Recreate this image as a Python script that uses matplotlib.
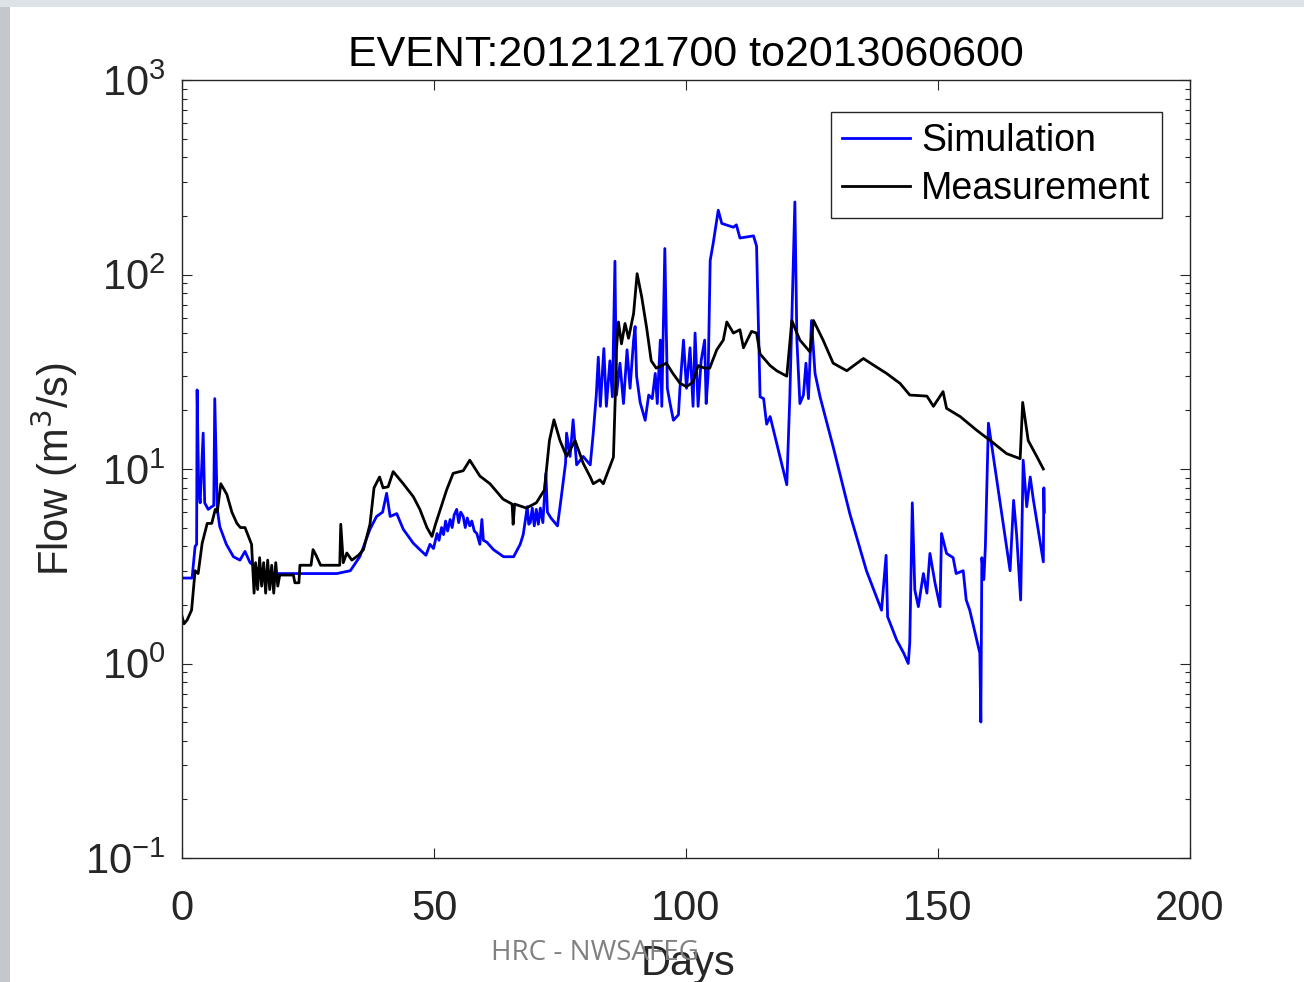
import matplotlib
matplotlib.use("Agg")
import matplotlib.pyplot as plt
from matplotlib.patches import Rectangle
from matplotlib.ticker import LogLocator, FixedLocator

plt.rcParams['font.family'] = ['Liberation Sans', 'DejaVu Sans']
plt.rcParams['axes.unicode_minus'] = False

# data (days, m^3/s)
sim_day = [0, 2.0, 2.6, 2.9, 3.0, 3.3, 3.6, 4.2, 4.5, 5.2, 5.9, 6.3, 6.5, 7.0, 7.5,
           8.8, 10.2, 11.5, 12.5, 13.5, 15.5, 17.5, 30.7, 33.4, 35.3, 37.3, 38.6,
           39.8, 40.6, 41.3, 42.6, 43.9, 45.9, 47.2, 48.4, 49.2, 49.9, 50.6, 51.0,
           51.5, 51.9, 52.3, 52.7, 53.2, 53.6, 54.0, 54.5, 54.9, 55.3, 55.8, 56.2,
           56.6, 57.1, 57.5, 58.0, 58.5, 59.1, 59.5, 59.8, 60.5, 61.8, 63.8, 65.8,
           67.1, 67.7, 68.1, 68.5, 68.8, 69.1, 69.5, 69.9, 70.3, 70.7, 71.1, 71.6,
           72.2, 72.5, 73.2, 74.5, 75.2, 76.1, 76.3, 77.0, 77.6, 78.3, 79.6, 81.0,
           81.6, 82.2, 82.6, 83.0, 83.7, 84.2, 84.9, 85.4, 85.9, 86.2, 86.9, 87.6,
           88.3, 88.9, 89.6, 89.9, 90.2, 90.9, 91.9, 92.6, 93.3, 93.9, 94.3, 94.9,
           95.2, 95.8, 96.3, 96.8, 97.5, 98.5, 98.8, 99.5, 100.1, 100.8, 101.4,
           101.8, 102.4, 103.0, 103.7, 104.0, 104.4, 104.8, 105.4, 105.8, 106.4,
           107.1, 109.4, 110.0, 110.7, 113.4, 114.0, 114.7, 115.4, 116.0, 116.7,
           120.0, 120.6, 121.6, 122.0, 122.6, 123.3, 123.8, 124.3, 124.9, 125.6,
           126.6, 129.2, 132.5, 135.8, 138.8, 139.7, 140.0, 141.8, 143.2, 144.1,
           144.4, 144.9, 145.4, 146.1, 147.1, 147.8, 148.4, 149.4, 150.4, 150.7,
           151.7, 153.0, 153.6, 155.0, 155.6, 156.3, 158.3, 158.5, 158.7, 159.1,
           159.4, 160.0, 160.7, 164.3, 165.0, 165.6, 166.4, 166.9, 167.6, 168.3,
           168.9, 170.9, 171.0, 171.1]
sim_flow = [2.75, 2.75, 4.0, 4.1, 25.5, 8.0, 6.7, 15.3, 6.7, 6.2, 6.4, 6.5, 23, 6.2, 5.05,
            4.1, 3.54, 3.4, 3.77, 3.3, 3.0, 2.9, 2.9, 3.0, 3.55, 4.9, 5.7,
            6.0, 7.5, 5.7, 5.9, 4.9, 4.15, 3.85, 3.6, 4.1, 3.9, 4.66, 4.3,
            5.0, 4.6, 5.4, 4.8, 5.5, 5.0, 5.8, 6.2, 5.3, 6.0, 5.7, 5.0,
            5.6, 5.1, 5.4, 4.8, 4.66, 4.1, 5.5, 4.3, 4.2, 3.85, 3.54, 3.54,
            4.1, 4.6, 5.4, 6.4, 5.2, 5.3, 6.3, 5.1, 6.2, 5.2, 6.3, 5.3,
            9.5, 6.0, 5.6, 5.1, 7.0, 10.7, 15.3, 11.6, 17.9, 10.5, 11.6, 10.5,
            15.3, 24, 37.6, 21, 41.6, 21, 36, 23.5, 117, 24, 35, 21.7,
            41, 26, 46, 54, 30, 22, 17.8, 24, 23, 31, 21.7, 46,
            21, 136, 26, 22, 17.8, 19, 26, 46, 26, 42, 21,
            50, 21, 36, 46, 21.7, 31, 118, 145, 170, 214,
            183, 175, 180, 154, 158, 140, 23.5, 23, 17, 18.6,
            8.3, 23.5, 236, 46, 21.7, 24, 35, 23, 58, 31,
            23.5, 13, 5.9, 3.0, 1.88, 3.6, 1.74, 1.32, 1.13, 1.0,
            1.28, 6.7, 2.39, 1.96, 2.9, 2.3, 3.68, 2.6, 1.96, 4.66,
            3.68, 3.5, 2.9, 3.0, 2.12, 1.88, 1.13, 0.5, 3.5, 2.7,
            4.0, 17.2, 13, 3.0, 6.9, 4.6, 2.12, 11.1, 6.4, 9.1,
            7.0, 3.33, 8.0, 6.0]

meas_day = [0, 0.4, 1.0, 1.9, 2.6, 3.2, 4.0, 5.0, 5.9, 6.6, 7.0, 7.7, 8.9, 9.9, 10.9,
            11.6, 12.5, 13.8, 14.3, 14.6, 15.0, 15.4, 15.8, 16.2, 16.6, 17.0, 17.4,
            17.8, 18.2, 18.6, 19.0, 19.4, 22.1, 22.4, 23.2, 23.4, 25.6, 26.0, 26.6,
            27.5, 31.3, 31.5, 32.0, 32.7, 33.7, 35.0, 36.0, 37.3, 38.1, 39.2, 39.9,
            40.9, 41.9, 43.9, 45.9, 47.2, 48.6, 49.6, 50.3, 52.5, 53.8, 55.8, 57.1,
            59.1, 61.1, 63.7, 65.5, 65.7, 66.0, 68.3, 70.3, 71.9, 72.9, 73.8, 75.0,
            76.3, 78.0, 79.6, 81.0, 81.6, 82.9, 83.6, 84.9, 85.6, 86.0, 86.2, 86.6,
            87.2, 87.9, 88.6, 89.6, 90.3, 91.2, 92.2, 93.1, 94.1, 95.1, 96.1, 97.4,
            98.8, 100.1, 101.4, 102.4, 103.7, 104.7, 106.1, 107.4, 108.1, 109.4,
            110.7, 111.4, 113.0, 114.0, 114.7, 116.7, 118.0, 120.0, 121.0, 122.0,
            122.6, 124.6, 125.3, 127.2, 129.2, 131.9, 135.2, 136.6, 139.8, 142.5,
            144.4, 147.8, 149.1, 151.0, 151.7, 154.4, 157.7, 161.0, 163.6, 166.3,
            166.8, 167.9, 169.6, 170.9]
meas_flow = [1.75, 1.6, 1.67, 1.88, 3.0, 2.9, 4.15, 5.25, 5.25, 6.2, 6.0, 8.4, 7.4, 6.0, 5.25,
             5.0, 5.0, 4.1, 2.3, 3.3, 2.4, 3.5, 2.5, 3.3, 2.3, 3.4, 2.4,
             3.2, 2.3, 3.3, 2.5, 2.85, 2.85, 2.6, 2.6, 3.2, 3.2, 3.85, 3.6,
             3.2, 3.2, 5.2, 3.3, 3.7, 3.4, 3.6, 3.85, 5.2, 8.0, 9.1, 8.0,
             8.1, 9.7, 8.4, 7.2, 6.2, 5.0, 4.5, 5.2, 7.8, 9.5, 9.8, 11.1,
             9.2, 8.4, 7.0, 6.6, 5.2, 6.6, 6.3, 6.7, 7.8, 14, 17.9, 14.0,
             11.6, 14.0, 10.7, 9.1, 8.4, 8.8, 8.4, 10.3, 11.5, 25, 41, 57,
             44, 56, 47, 63, 101, 77, 53, 36, 33, 34, 35, 31,
             27.6, 26.5, 28, 34, 33, 33, 41, 46, 57, 50,
             52, 42, 51, 50, 39, 34, 32, 30, 58, 50,
             46, 40, 58, 46, 35, 32, 37, 35, 31, 27.5,
             24, 23.7, 21, 25, 20.5, 18.6, 15.8, 13.6, 12.0, 11.3,
             22, 14, 11.6, 10.0]

x_ticks = [0, 50, 100, 150, 200]

fig = plt.figure(figsize=(13.04, 9.82), dpi=100, facecolor='white')
# slide background showing at the edges
fig.patches.append(Rectangle((0, 0), 10 / 1304, 1, transform=fig.transFigure,
                             facecolor='#c4c7cb', edgecolor='none', zorder=0))
fig.patches.append(Rectangle((0, 1 - 7 / 982), 1, 7 / 982, transform=fig.transFigure,
                             facecolor='#dde2e7', edgecolor='none', zorder=0))

ax = fig.add_axes([182 / 1304, 1 - 858 / 982, 1008 / 1304, 778 / 982])
ax.plot(sim_day, sim_flow, color='#0000ff', lw=2.0, label='Simulation')
ax.plot(meas_day, meas_flow, color='black', lw=2.0, label='Measurement')

ax.set_yscale('log')
ax.set_xlim(0, 200)
ax.set_ylim(0.1, 1000)
ax.xaxis.set_major_locator(FixedLocator(x_ticks))
ax.yaxis.set_major_locator(LogLocator(base=10, numticks=10))
ax.yaxis.set_minor_locator(LogLocator(base=10, subs=range(2, 10), numticks=10))

dark = '#262626'
for s in ax.spines.values():
    s.set_color(dark)
    s.set_linewidth(1.0)
ax.tick_params(which='both', direction='in', top=True, right=True, colors=dark,
               labelcolor=dark, width=0.8)
ax.tick_params(which='major', length=7, labelsize=30)
ax.tick_params(axis='x', which='major', pad=22)
ax.tick_params(axis='y', which='major', pad=12)
ax.tick_params(which='minor', length=3.5)

ax.set_title('EVENT:2012121700 to2013060600', fontsize=31, color='black', pad=10)
ax.set_ylabel('Flow (m$^3$/s)', fontsize=30, color=dark)
ax.yaxis.set_label_coords(-0.101, 0.5)
ax.set_xlabel('Days', fontsize=30, color=dark)
ax.xaxis.set_label_coords(0.502, -0.11)

leg = ax.legend(loc='upper right', bbox_to_anchor=(0.972, 0.959), borderaxespad=0,
                fontsize=27, handlelength=1.8, handletextpad=0.3, labelspacing=0.31,
                borderpad=0.3, fancybox=False, framealpha=1)
leg.get_frame().set_edgecolor(dark)
leg.get_frame().set_linewidth(1.0)

fig.text(595 / 1304, 1 - 953 / 982, 'HRC - NWSAFEG', fontsize=20, color='#808080',
         family=['Open Sans', 'DejaVu Sans'], ha='center', va='center')

fig.savefig('out.png', dpi=100)
